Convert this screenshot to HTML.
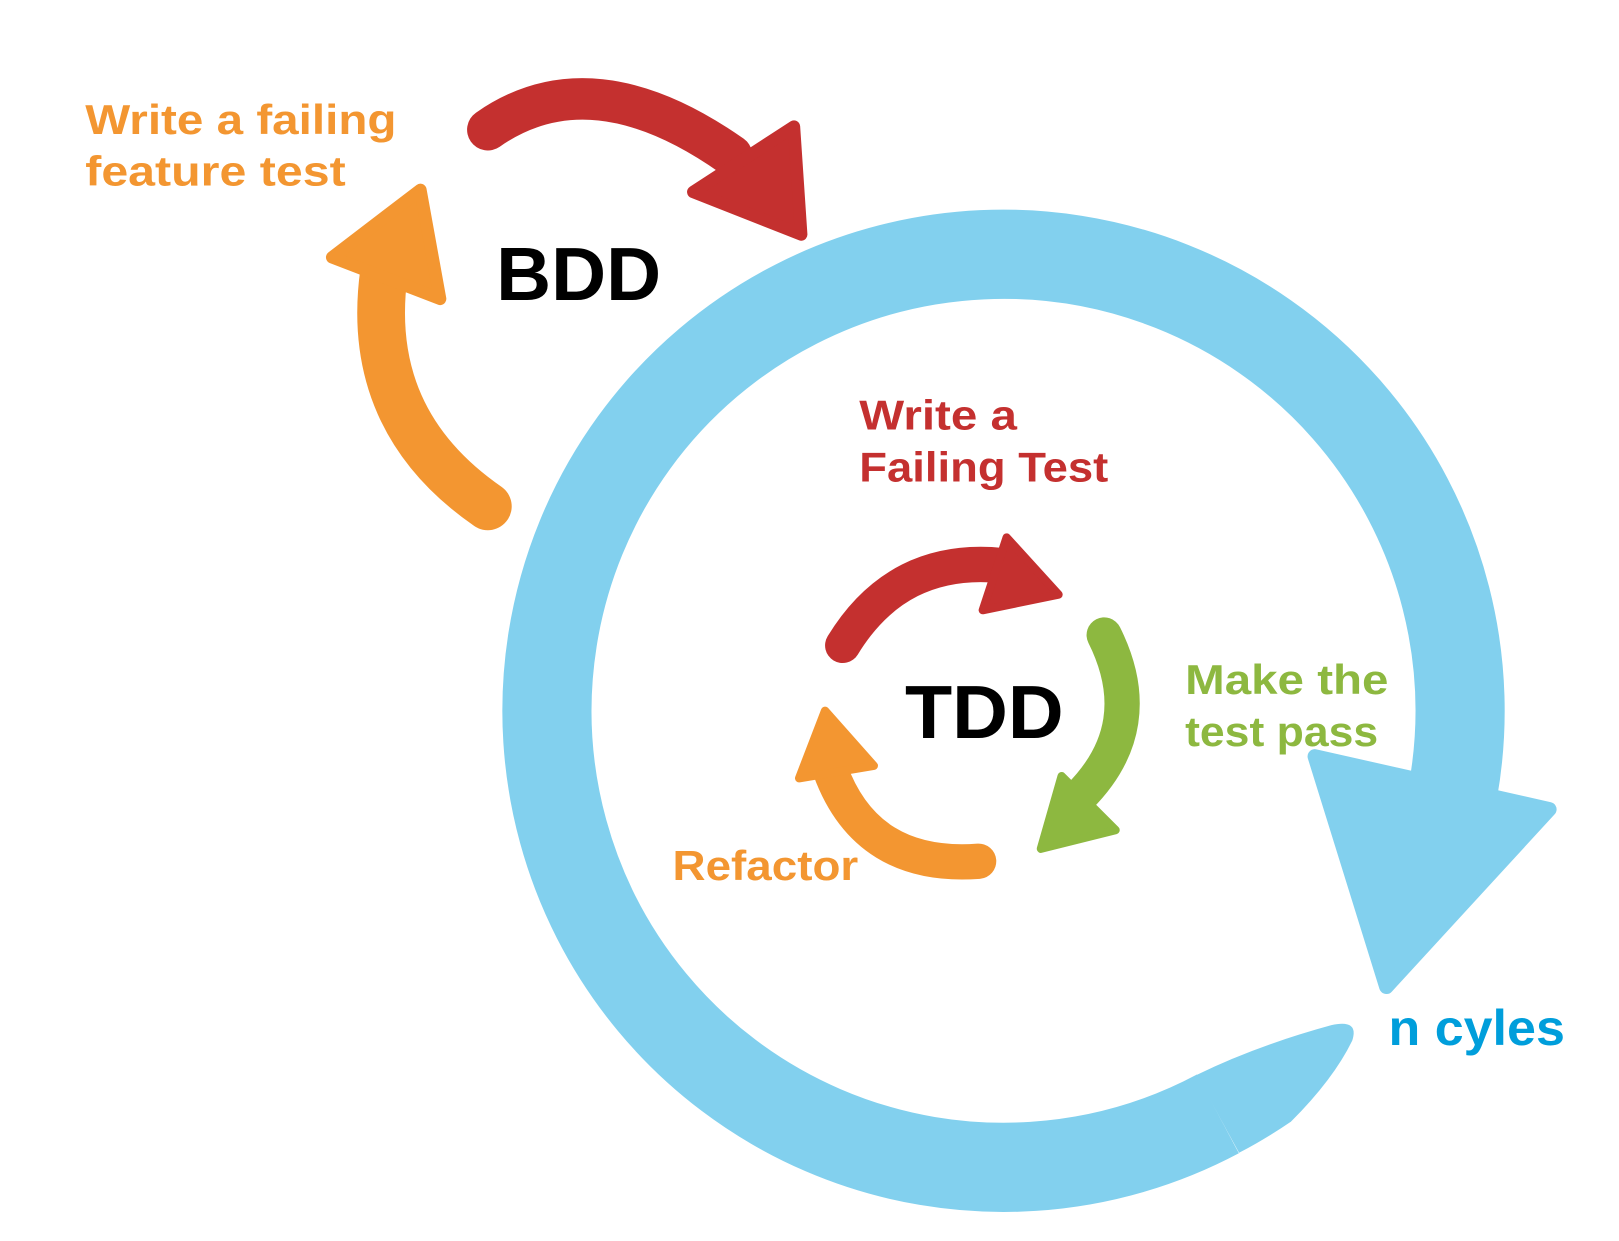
<!DOCTYPE html>
<html><head><style>html,body{margin:0;padding:0;background:#fff;width:1619px;height:1241px;overflow:hidden}</style></head>
<body>
<svg width="1619" height="1241" viewBox="0 0 1560 1196" xmlns="http://www.w3.org/2000/svg" font-family="Liberation Sans, sans-serif" font-weight="bold">
<!-- blue ring -->
<path d="M 1173.6 1073.5 A 440 440 0 1 1 1400.3 761.4" fill="none" stroke="#82D0EE" stroke-width="86"/>
<path d="M 1194 1111 A 483 483 0 0 0 1244 1081 Q 1285 1040 1303 1003 Q 1310 982 1283 988 Q 1210 1008 1153 1036 Z" fill="#82D0EE"/>
<polygon points="1267,729 1493,780 1336,951" fill="#82D0EE" stroke="#82D0EE" stroke-width="14" stroke-linejoin="round"/>
<!-- BDD red -->
<path d="M 470 125 Q 570 55 705 150" fill="none" stroke="#C4302F" stroke-width="40" stroke-linecap="round"/>
<polygon points="668,185 765,122 772,226" fill="#C4302F" stroke="#C4302F" stroke-width="12" stroke-linejoin="round"/>
<!-- BDD orange -->
<path d="M 470 488 Q 350 405 370 262" fill="none" stroke="#F39631" stroke-width="46" stroke-linecap="round"/>
<polygon points="320,248 405,183 424,288" fill="#F39631" stroke="#F39631" stroke-width="12" stroke-linejoin="round"/>
<!-- TDD red -->
<path d="M 812 622 Q 865 535 965 545" fill="none" stroke="#C4302F" stroke-width="34" stroke-linecap="round"/>
<polygon points="947,588 970,518 1020,573" fill="#C4302F" stroke="#C4302F" stroke-width="8" stroke-linejoin="round"/>
<!-- TDD green -->
<path d="M 1064 612 Q 1108 700 1040 768" fill="none" stroke="#8DB840" stroke-width="34" stroke-linecap="round"/>
<polygon points="1003,818 1023,748 1075,800" fill="#8DB840" stroke="#8DB840" stroke-width="8" stroke-linejoin="round"/>
<!-- TDD orange -->
<path d="M 943 830 Q 835 838 800 742" fill="none" stroke="#F39631" stroke-width="34" stroke-linecap="round"/>
<polygon points="770,750 795,685 842,738" fill="#F39631" stroke="#F39631" stroke-width="8" stroke-linejoin="round"/>
<!-- text -->
<g fill="#F39631" font-size="40">
<text x="82" y="129" textLength="300" lengthAdjust="spacingAndGlyphs">Write a failing</text>
<text x="82" y="179" textLength="251" lengthAdjust="spacingAndGlyphs">feature test</text>
<text x="648" y="848" textLength="179" lengthAdjust="spacingAndGlyphs">Refactor</text>
</g>
<g fill="#C4302F" font-size="40">
<text x="828" y="414" textLength="152" lengthAdjust="spacingAndGlyphs">Write a</text>
<text x="828" y="464" textLength="240" lengthAdjust="spacingAndGlyphs">Failing Test</text>
</g>
<g fill="#8DB840" font-size="40">
<text x="1142" y="669" textLength="196" lengthAdjust="spacingAndGlyphs">Make the</text>
<text x="1142" y="719" textLength="186" lengthAdjust="spacingAndGlyphs">test pass</text>
</g>
<g fill="#000" font-size="72">
<text x="478" y="289" textLength="159" lengthAdjust="spacingAndGlyphs">BDD</text>
<text x="872" y="711" textLength="153" lengthAdjust="spacingAndGlyphs">TDD</text>
</g>
<text x="1338" y="1007" font-size="48" fill="#009EDB" textLength="170" lengthAdjust="spacingAndGlyphs">n cyles</text>
</svg>
</body></html>
